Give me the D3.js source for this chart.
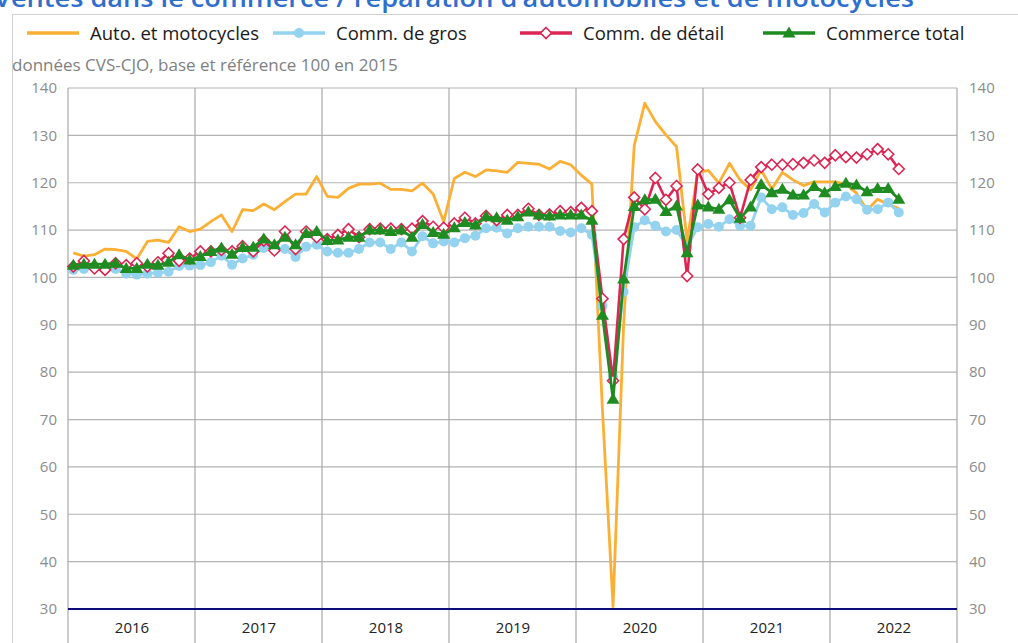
<!DOCTYPE html>
<html><head><meta charset="utf-8">
<script src="https://cdn.jsdelivr.net/npm/d3@7"></script>
<style>
html,body{margin:0;padding:0;background:#fff;}
svg{display:block;font-family:"Open Sans",sans-serif;}
</style></head>
<body>
<svg id="c" width="1018" height="643"></svg>
<script>
const years = ["2016","2017","2018","2019","2020","2021","2022"];
const yTicks = [30,40,50,60,70,80,90,100,110,120,130,140];
const seriesNames = ["Auto. et motocycles","Comm. de gros","Comm. de détail","Commerce total"];
// monthly values, Jan 2016 .. Jul 2022
const auto = [105.2,104.5,104.8,106.0,105.9,105.5,103.9,107.6,107.9,107.4,110.7,109.7,
  110.2,111.8,113.2,109.7,114.3,114.1,115.5,114.3,116.0,117.6,117.6,121.3,
  117.1,116.9,118.8,119.7,119.7,119.9,118.6,118.6,118.3,119.9,117.6,111.8,
  120.9,122.2,121.3,122.7,122.5,122.2,124.3,124.1,123.9,122.9,124.5,123.8,
  121.6,119.7,72.0,30.5,90.0,127.8,136.8,132.9,130.1,127.6,107.6,122.2,
  122.6,119.9,124.1,120.6,118.5,122.7,118.7,122.2,120.6,119.4,120.2,120.2,
  120.2,119.7,117.8,114.2,116.5,115.4,114.6];
const gros = [101.6,101.8,102.3,101.9,101.8,100.8,100.6,100.8,101.0,101.2,102.4,102.5,
  102.6,103.2,104.6,102.7,104.0,104.8,106.2,106.2,106.0,104.3,106.5,106.9,
  105.5,105.2,105.2,106.0,107.4,107.4,106.0,107.4,105.5,108.7,107.2,107.6,
  107.4,108.3,108.8,110.4,110.5,109.3,110.4,110.7,110.7,110.7,109.8,109.5,
  110.4,109.0,94.0,79.0,97.0,110.6,112.1,110.9,109.7,110.0,106.5,110.6,
  111.3,110.7,112.3,110.9,110.9,116.9,114.4,114.8,113.2,113.6,115.5,113.7,
  115.8,117.1,116.5,114.3,114.4,115.8,113.7];
const detail = [102.3,103.5,101.9,101.6,103.0,102.6,103.0,102.3,103.2,105.1,103.5,104.0,
  105.5,105.5,105.8,105.5,106.6,105.5,107.8,105.7,109.7,106.0,109.7,108.5,
  108.1,109.0,110.2,108.5,110.2,110.3,110.3,110.2,110.3,111.9,110.7,110.5,
  111.4,112.6,111.4,113.0,112.1,113.2,113.2,114.5,113.2,113.3,114.0,113.8,
  114.7,114.0,95.5,78.2,108.1,116.9,114.4,121.0,116.4,119.3,100.3,122.8,
  117.6,118.9,120.0,112.6,120.6,123.3,123.8,123.8,123.9,124.2,124.7,124.2,
  125.8,125.4,125.3,126.0,127.1,126.0,122.9];
const total = [102.6,102.8,102.8,102.8,103.0,101.9,101.9,102.8,102.6,103.2,104.8,103.7,
  104.4,105.5,106.2,104.9,106.3,106.4,108.1,106.9,108.5,106.9,109.3,109.7,
  107.8,107.9,108.5,108.5,110.0,110.0,109.7,110.0,108.5,111.2,109.5,109.1,
  110.5,111.6,111.1,112.8,112.6,112.1,112.8,113.8,113.2,113.0,113.2,113.2,
  113.2,112.1,92.0,74.3,99.7,115.0,116.4,116.5,113.9,115.1,105.2,115.3,
  114.9,114.4,116.4,112.5,114.9,119.6,117.9,118.6,117.4,117.4,119.2,117.9,
  119.2,119.9,119.5,118.1,118.8,118.8,116.5];

const svg = d3.select("#c");
const L = 68, R = 957, T = 88, B = 609;
const x = d3.scaleLinear().domain([0, years.length*12]).range([L, R]);
const y = d3.scaleLinear().domain([30, 140]).range([B, T]);

// title (cut off at top, as in the reference)
svg.append("text").attr("x", -6).attr("y", 7)
  .attr("fill", "#2f6fcb").attr("font-size", 26).attr("font-weight", 600)
  .attr("textLength", 920).attr("lengthAdjust", "spacingAndGlyphs")
  .text("Ventes dans le commerce / réparation d’automobiles et de  motocycles");

// frame
svg.append("path").attr("d", "M12.5,643V14.5H1018").attr("fill","none").attr("stroke","#d0d0d0").attr("stroke-width",1);

// subtitle
svg.append("text").attr("x", 12).attr("y", 71).attr("fill", "#7f7f7f").attr("font-size", 17)
  .text("données CVS-CJO, base et référence 100 en 2015");

// gridlines
const g = svg.append("g");
g.selectAll("line.h").data(yTicks.filter(v => v > 30)).join("line")
  .attr("x1", L).attr("x2", R).attr("y1", d => y(d)).attr("y2", d => y(d))
  .attr("stroke", "#b4b4b4").attr("stroke-width", 1.2);
const bounds = d3.range(0, years.length*12 + 1, 12);
g.selectAll("line.v").data(bounds).join("line")
  .attr("x1", d => x(d)).attr("x2", d => x(d)).attr("y1", T).attr("y2", 643)
  .attr("stroke", "#a8a8a8").attr("stroke-width", 1.2);

// axes
const yl = svg.append("g").attr("transform", `translate(${L-8},0)`)
  .call(d3.axisLeft(y).tickValues(yTicks).tickSize(0).tickFormat(d3.format("d")));
const yr = svg.append("g").attr("transform", `translate(${R+9},0)`)
  .call(d3.axisRight(y).tickValues(yTicks).tickSize(0).tickFormat(d3.format("d")));
[yl, yr].forEach(a => {
  a.select(".domain").remove();
  a.selectAll("text").attr("fill", "#8c8c8c").attr("font-size", 15).attr("font-family", "Open Sans, sans-serif");
});
const xa = svg.append("g").attr("transform", `translate(0,${B})`)
  .call(d3.axisBottom(x).tickValues(years.map((d,i) => i*12+6)).tickSize(0).tickFormat((d,i) => years[i]));
xa.select(".domain").remove();
xa.selectAll("text").attr("fill", "#222").attr("font-size", 15).attr("dy", "1.4em").attr("font-family", "Open Sans, sans-serif");

svg.append("line").attr("x1", L).attr("x2", R).attr("y1", B).attr("y2", B)
  .attr("stroke", "#0c0c7a").attr("stroke-width", 2);

// series
const diamond = "M0,-5.5L5.5,0L0,5.5L-5.5,0Z";
const tri = "M0,-6.5L6.5,4.5L-6.5,4.5Z";
const circ = d3.symbol(d3.symbolCircle, 78)();
const series = [
  {name: seriesNames[0], data: auto, color: "#fbb035", w: 2.8, marker: null},
  {name: seriesNames[1], data: gros, color: "#94d3ef", w: 2.8, marker: circ, fill: "#94d3ef", sw: 0},
  {name: seriesNames[2], data: detail, color: "#dd2553", w: 2.6, marker: diamond, fill: "#fff", sw: 1.6},
  {name: seriesNames[3], data: total, color: "#1f8c22", w: 2.8, marker: tri, fill: "#1f8c22", sw: 0}
];
const line = d3.line().x((d,i) => x(i + 0.5)).y(d => y(d));
series.forEach(s => {
  const gs = svg.append("g");
  gs.append("path").attr("d", line(s.data)).attr("fill", "none")
    .attr("stroke", s.color).attr("stroke-width", s.w).attr("stroke-linejoin", "round");
  if (s.marker) {
    gs.selectAll("path.m").data(s.data).join("path").attr("class","m")
      .attr("d", s.marker).attr("transform", (d,i) => `translate(${x(i+0.5)},${y(d)})`)
      .attr("fill", s.fill).attr("stroke", s.color).attr("stroke-width", s.sw);
  }
});

// legend
const legX = [27, 273, 520, 763];
series.forEach((s, i) => {
  const lg = svg.append("g").attr("transform", `translate(${legX[i]},33)`);
  lg.append("line").attr("x1", 0).attr("x2", 52).attr("stroke", s.color).attr("stroke-width", 3.5);
  if (s.marker) lg.append("path").attr("d", s.marker).attr("transform", "translate(26,0)")
    .attr("fill", s.fill).attr("stroke", s.color).attr("stroke-width", s.sw);
  lg.append("text").attr("x", 63).attr("y", 6.5).attr("font-size", 18.5).attr("fill", "#1a1a1a").text(s.name);
});
</script>
</body></html>
